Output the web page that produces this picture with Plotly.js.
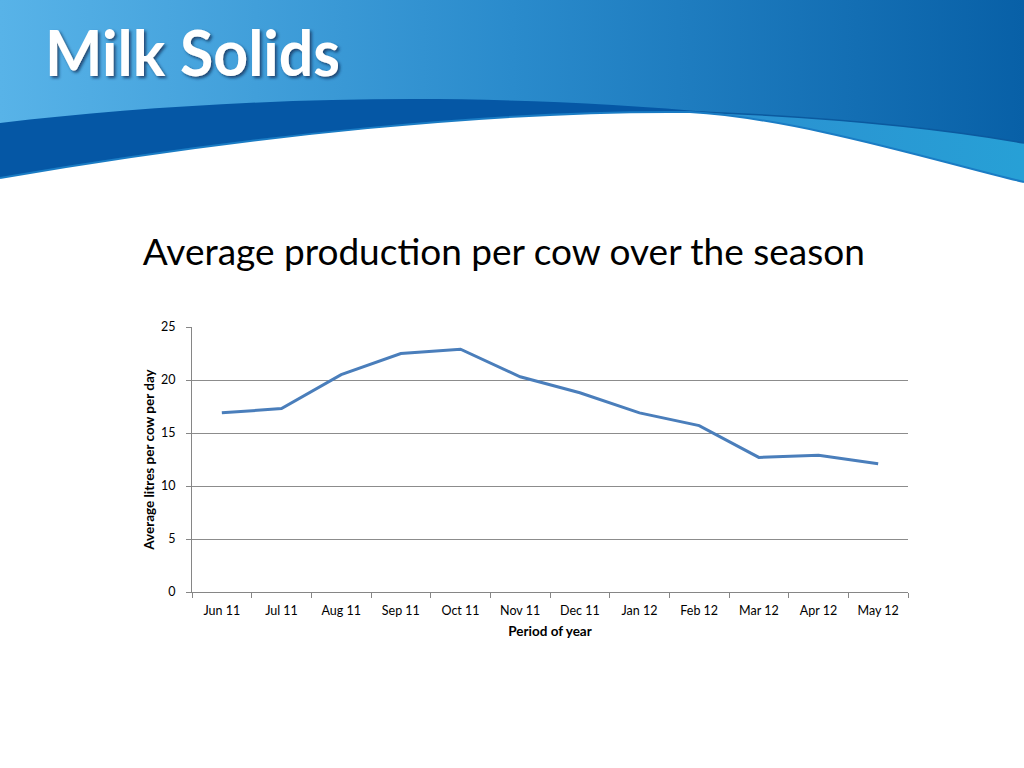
<!DOCTYPE html>
<html>
<head>
<meta charset="utf-8">
<script src="https://cdn.plot.ly/plotly-3.0.1.min.js"></script>
<style>
  html, body { margin: 0; padding: 0; background: #ffffff; }
  #wrap { position: relative; width: 1024px; height: 768px; overflow: hidden; }
  #bg { position: absolute; left: 0; top: 0; }
  #chart { position: absolute; left: 0; top: 0; width: 1024px; height: 768px; }
</style>
</head>
<body>
<div id="wrap">
<svg id="bg" width="1024" height="768" viewBox="0 0 1024 768" xmlns="http://www.w3.org/2000/svg">
  <defs>
    <linearGradient id="mainGrad" x1="0" y1="0" x2="1" y2="0">
      <stop offset="0" stop-color="#58b3e8"/>
      <stop offset="0.5" stop-color="#2a8bcc"/>
      <stop offset="1" stop-color="#0860a7"/>
    </linearGradient>
    <linearGradient id="cyanGrad" x1="0" y1="0" x2="1" y2="0">
      <stop offset="0" stop-color="#2b8fd0"/>
      <stop offset="1" stop-color="#27a0d6"/>
    </linearGradient>
    <filter id="shadow" x="-10%" y="-20%" width="130%" height="150%">
      <feDropShadow dx="2" dy="2" stdDeviation="1.5" flood-color="#0a2a50" flood-opacity="0.75"/>
    </filter>
  </defs>
  <rect x="0" y="0" width="1024" height="768" fill="#ffffff"/>
  <path d="M0,0 H1024 V182 C950,165 800,118 690,112 C500,110 250,135 0,178 Z" fill="url(#mainGrad)"/>
  <path d="M0,123 C200,100 450,88 720,113 L690,112 C500,110 250,135 0,178 Z" fill="#0557a5"/>
  <path d="M700,112 C850,118 950,130 1024,143 V182 C950,165 800,118 690,112 Z" fill="url(#cyanGrad)"/>
  <path d="M700,112 C850,118 950,130 1024,143" fill="none" stroke="#0b5a9f" stroke-width="1.5"/>
  <path d="M0,178 C250,135 500,110 690,112 C800,118 950,165 1024,182" fill="none" stroke="#1a7cc4" stroke-width="2"/>
  <text x="45" y="76" font-family="Lato, 'Open Sans', sans-serif" font-weight="700" font-size="64" fill="#ffffff" textLength="295" lengthAdjust="spacingAndGlyphs" filter="url(#shadow)">Milk Solids</text>
</svg>
<div id="chart"></div>
</div>
<script>
const months = ["Jun 11", "Jul 11", "Aug 11", "Sep 11", "Oct 11", "Nov 11", "Dec 11", "Jan 12", "Feb 12", "Mar 12", "Apr 12", "May 12"];
const litresPerCowPerDay = [16.9, 17.3, 20.5, 22.5, 22.9, 20.3, 18.8, 16.9, 15.7, 12.7, 12.9, 12.1];
const yTickValues = [0, 5, 10, 15, 20, 25];

const trace = {
  x: months,
  y: litresPerCowPerDay,
  type: "scatter",
  mode: "lines",
  line: { color: "#4a7ebb", width: 3 },
  hoverinfo: "x+y"
};

const layout = {
  width: 1024,
  height: 768,
  paper_bgcolor: "rgba(0,0,0,0)",
  plot_bgcolor: "rgba(0,0,0,0)",
  margin: { l: 192, r: 116, t: 327, b: 176 },
  showlegend: false,
  font: { family: "Lato, 'Open Sans', sans-serif", color: "#000000", size: 12 },
  title: {
    text: "Average production per cow over the season",
    font: { family: "Lato, 'Open Sans', sans-serif", size: 37, color: "#000000" },
    xref: "container", yref: "container",
    x: 0.492, y: 1 - 252 / 768,
    xanchor: "center", yanchor: "middle"
  },
  xaxis: {
    type: "category",
    range: [-0.5, months.length - 0.5],
    tickson: "boundaries",
    ticks: "outside",
    ticklen: 5,
    tickcolor: "#868686",
    showline: true,
    linecolor: "#868686",
    linewidth: 1,
    showgrid: false,
    zeroline: false,
    ticklabelstandoff: 7,
    tickfont: { size: 12.5, color: "#000000" },
    title: { text: "<b>Period of year</b>", font: { size: 13.5, color: "#000000" }, standoff: 9 },
    automargin: false
  },
  yaxis: {
    range: [0, 25],
    tickvals: yTickValues,
    ticks: "outside",
    ticklen: 5,
    tickcolor: "#868686",
    showline: true,
    linecolor: "#868686",
    linewidth: 1,
    showgrid: true,
    gridcolor: "#8c8c8c",
    gridwidth: 1,
    zeroline: false,
    ticklabelstandoff: 8,
    tickfont: { size: 12.5, color: "#000000" },
    title: { text: "<b>Average litres per cow per day</b>", font: { size: 13.5, color: "#000000" }, standoff: 3 },
    automargin: false
  }
};

Plotly.newPlot("chart", [trace], layout, { displayModeBar: false, staticPlot: true });
</script>
</body>
</html>
